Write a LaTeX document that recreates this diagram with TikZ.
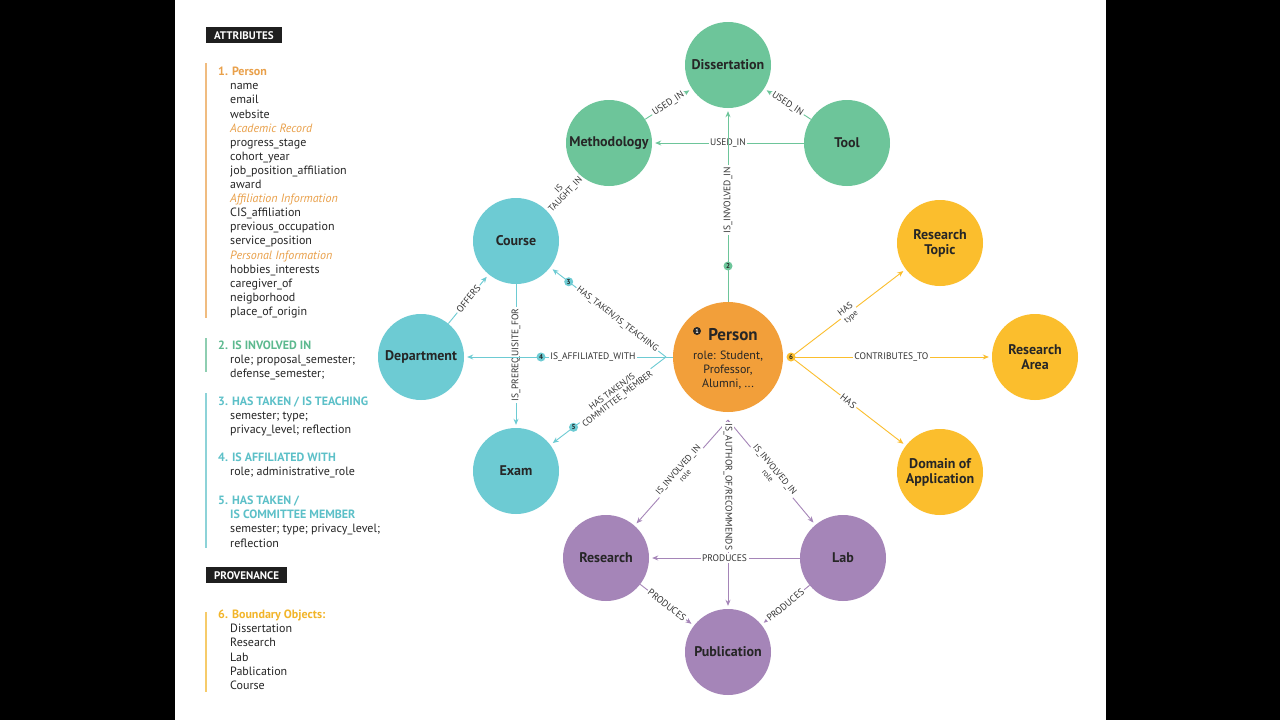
\documentclass[tikz,border=0pt]{standalone}
\usepackage{fontspec}
\setmainfont{PT Sans}
\usetikzlibrary{arrows.meta}
\definecolor{cgreen}{HTML}{6DC59A}
\definecolor{cteal}{HTML}{6DCBD3}
\definecolor{corange}{HTML}{F29F3A}
\definecolor{cyellow}{HTML}{FBBE2D}
\definecolor{cpurple}{HTML}{A585B8}
\definecolor{horange}{HTML}{E9A04A}
\definecolor{hgreen}{HTML}{5DB98F}
\definecolor{hteal}{HTML}{5CC0C8}
\definecolor{hyellow}{HTML}{F2B52A}
\tikzset{
 ent/.style={circle,minimum size=86pt,inner sep=0pt,align=center,font=\fontsize{14}{15}\selectfont\bfseries,text=black!85},
 conn/.style={line width=0.9pt,-{Stealth[length=6pt,width=5pt]},shorten >=3pt},
 lab/.style={fill=white,inner sep=1.5pt,font=\fontsize{9.5}{10}\selectfont,text=black!80,align=center},
 mk/.style={circle,fill=#1,inner sep=0pt,minimum size=9pt,font=\fontsize{7}{7}\selectfont\bfseries,text=black!85},
 hdr/.style={fill=black!88,text=white,font=\fontsize{11}{12}\selectfont\bfseries,inner xsep=8pt,inner ysep=4pt,anchor=north west},
 lst/.style={anchor=north west,align=left,inner sep=0pt,font=\fontsize{12}{14.1}\selectfont,text=black!85},
}
\begin{document}
\begin{tikzpicture}[x=1pt,y=-1pt]
\fill[black] (0,0) rectangle (1280,720);
\fill[white] (175,0) rectangle (1106,720);
\useasboundingbox (0,0) rectangle (1280,720);

% left panel
\node[hdr] (hA) at (206,27) {ATTRIBUTES};
\draw[horange!70,line width=1.5pt] (206,63) -- (206,318);
\node[lst] (l1) at (218,67) {\textcolor{horange}{\bfseries 1. Person}\\
\hspace*{12pt}name\\ \hspace*{12pt}email\\ \hspace*{12pt}website\\
\hspace*{12pt}\textcolor{horange}{\itshape Academic Record}\\
\hspace*{12pt}progress\_stage\\ \hspace*{12pt}cohort\_year\\ \hspace*{12pt}job\_position\_affiliation\\ \hspace*{12pt}award\\
\hspace*{12pt}\textcolor{horange}{\itshape Affiliation Information}\\
\hspace*{12pt}CIS\_affiliation\\ \hspace*{12pt}previous\_occupation\\ \hspace*{12pt}service\_position\\
\hspace*{12pt}\textcolor{horange}{\itshape Personal Information}\\
\hspace*{12pt}hobbies\_interests\\ \hspace*{12pt}caregiver\_of\\ \hspace*{12pt}neigborhood\\ \hspace*{12pt}place\_of\_origin};
\draw[hgreen!70,line width=1.5pt] (206,338) -- (206,372);
\node[lst] (l2) at (218,341) {\textcolor{hgreen}{\bfseries 2. IS INVOLVED IN}\\
\hspace*{12pt}role; proposal\_semester;\\ \hspace*{12pt}defense\_semester;};
\draw[hteal!70,line width=1.5pt] (206,393) -- (206,548);
\node[lst] (l3) at (218,397) {\textcolor{hteal}{\bfseries 3. HAS TAKEN / IS TEACHING}\\
\hspace*{12pt}semester; type;\\ \hspace*{12pt}privacy\_level; reflection};
\node[lst] (l4) at (218,453) {\textcolor{hteal}{\bfseries 4. IS AFFILIATED WITH}\\
\hspace*{12pt}role; administrative\_role};
\node[lst] (l5) at (218,496) {\textcolor{hteal}{\bfseries 5. HAS TAKEN /}\\
\textcolor{hteal}{\bfseries \hspace*{12pt}IS COMMITTEE MEMBER}\\
\hspace*{12pt}semester; type; privacy\_level;\\ \hspace*{12pt}reflection};
\node[hdr] (hP) at (206,567) {PROVENANCE};
\draw[hyellow!70,line width=1.5pt] (206,612) -- (206,692);
\node[lst] (l6) at (218,610) {\textcolor{hyellow}{\bfseries 6. Boundary Objects:}\\
\hspace*{12pt}Dissertation\\ \hspace*{12pt}Research\\ \hspace*{12pt}Lab\\ \hspace*{12pt}Pablication\\ \hspace*{12pt}Course};

% entities
\node[ent,fill=cgreen] (dis) at (728,65) {Dissertation};
\node[ent,fill=cgreen] (met) at (609,143) {Methodology};
\node[ent,fill=cgreen] (tool) at (847,143) {Tool};
\node[ent,fill=cteal] (course) at (516,241) {Course};
\node[ent,fill=cteal] (dep) at (421,357) {Department};
\node[ent,fill=cteal] (exam) at (516,471) {Exam};
\node[ent,fill=corange,minimum size=110pt] (person) at (728,357) {};
\node[font=\fontsize{17}{18}\selectfont\bfseries,text=black!85] (ptitle) at (733,335) {Person};
\node[mk=black!85,text=white,minimum size=8pt,font=\fontsize{6}{6}\selectfont\bfseries] (m1) at (697,331) {1};
\node[align=center,font=\fontsize{12}{14}\selectfont,text=black!85] (prole) at (728,370) {role: Student,\\Professor,\\Alumni, ...};
\node[ent,fill=cyellow] (rt) at (940,243) {Research\\Topic};
\node[ent,fill=cyellow] (ra) at (1035,357) {Research\\Area};
\node[ent,fill=cyellow] (dom) at (940,472) {Domain of\\Application};
\node[ent,fill=cpurple] (res) at (606,558) {Research};
\node[ent,fill=cpurple] (lab) at (843,558) {Lab};
\node[ent,fill=cpurple] (pub) at (728,652) {Publication};

% green edges
\draw[conn,cgreen] (met) -- node[lab,sloped] (e1) {USED\_IN} (dis);
\draw[conn,cgreen] (tool) -- node[lab,sloped] (e2) {USED\_IN} (dis);
\draw[conn,cgreen] (tool) -- node[lab] (e3) {USED\_IN} (met);
\draw[conn,cgreen] (person) -- (dis);
\node[lab,rotate=90] (e4) at (728,200) {IS\_INVOLVED\_IN};
\node[mk=cgreen] (m2) at (728,266) {2};
\draw[conn,cteal!80!cgreen] (met) -- node[lab,sloped,font=\fontsize{9}{9}\selectfont] (e5) {IS\\TAUGHT\_IN} (course);

% teal edges
\coordinate (pc) at (666,357);
\draw[conn,cteal] (dep) -- node[lab,sloped] (e6) {OFFERS} (course);
\draw[conn,cteal] (course) -- (exam);
\node[lab,rotate=90] (e7) at (516,355) {IS\_PREREQUISITE\_FOR};
\draw[conn,cteal] (pc) -- node[lab,sloped,pos=0.42,font=\fontsize{9}{9}\selectfont] (e8) {HAS\_TAKEN/IS\_TEACHING} node[mk=cteal,pos=0.84] (m3) {3} (course);
\draw[conn,cteal] (pc) -- (dep);
\node[lab] (e9) at (593,357) {IS\_AFFILIATED\_WITH};
\node[mk=cteal] (m4) at (541,357) {4};
\draw[conn,cteal] (pc) -- node[lab,sloped,pos=0.44,font=\fontsize{9}{9}\selectfont] (e10) {HAS TAKEN/IS\\COMMITTEE\_MEMBER} node[mk=cteal,pos=0.8] (m5) {5} (exam);
\draw[cteal,line width=0.9pt] (person.west) -- (pc);

% yellow edges
\coordinate (yc) at (791,357);
\draw[conn,cyellow] (yc) -- node[lab,sloped,font=\fontsize{9}{9}\selectfont] (e11) {HAS\\{\fontsize{8}{8}\selectfont type}} (rt);
\draw[conn,cyellow] (yc) -- node[lab] (e12) {CONTRIBUTES\_TO} (ra);
\draw[conn,cyellow] (yc) -- node[lab,sloped] (e13) {HAS} (dom);
\node[mk=cyellow] (m6) at (yc) {6};

% purple edges
\coordinate (pp) at (728,420);
\draw[conn,cpurple] (pp) -- node[lab,sloped,font=\fontsize{9}{9}\selectfont] (e14) {IS\_INVOLVED\_IN\\{\fontsize{8}{8}\selectfont role}} (res);
\draw[conn,cpurple] (pp) -- node[lab,sloped,font=\fontsize{9}{9}\selectfont] (e15) {IS\_INVOLVED\_IN\\{\fontsize{8}{8}\selectfont role}} (lab);
\draw[conn,cpurple] (pp) -- (pub);
\node[lab,rotate=-90] (e16) at (728,487) {IS\_AUTHOR\_OF/RECOMMENDS};
\draw[conn,cpurple] (lab) -- node[lab,pos=0.5] (e17) {PRODUCES} (res);
\draw[conn,cpurple] (res) -- node[lab,sloped] (e18) {PRODUCES} (pub);
\draw[conn,cpurple] (lab) -- node[lab,sloped] (e19) {PRODUCES} (pub);
\end{tikzpicture}
\end{document}
